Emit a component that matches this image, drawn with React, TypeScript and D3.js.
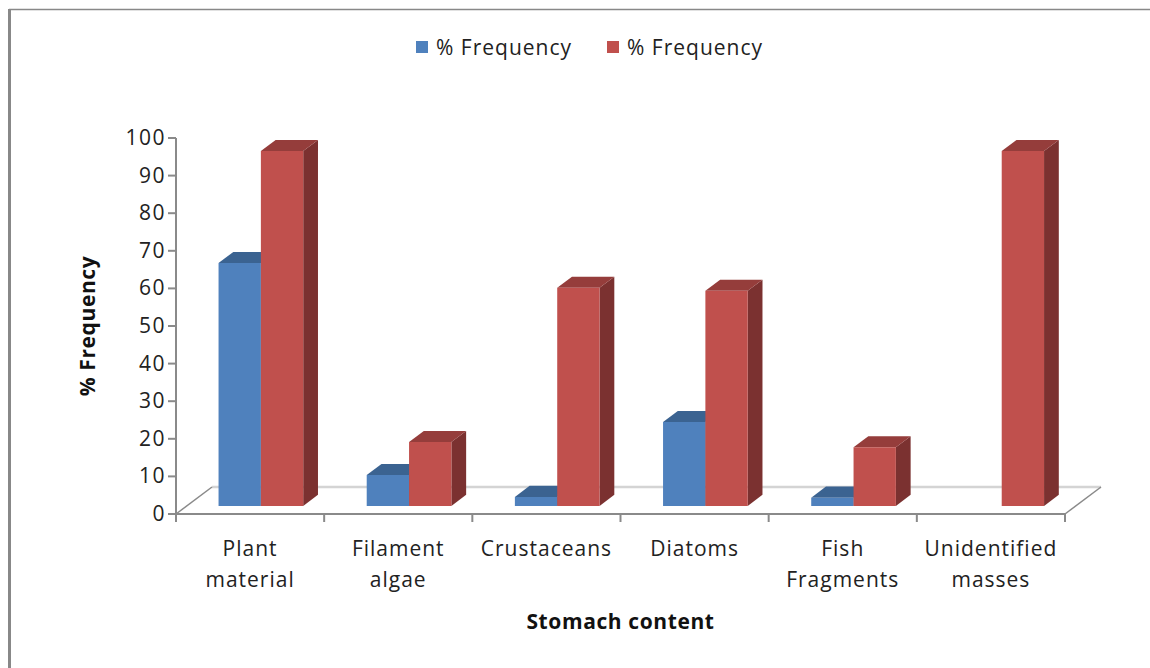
import React from "react";
import * as d3 from "d3";

const categories: string[][] = [
  ["Plant", "material"],
  ["Filament", "algae"],
  ["Crustaceans"],
  ["Diatoms"],
  ["Fish", "Fragments"],
  ["Unidentified", "masses"],
];
const seriesNames = ["% Frequency", "% Frequency"];
const blueValues = [64.6, 8.2, 2.4, 22.3, 2.2, 0];
const redValues = [94.4, 17, 58, 57.2, 15.6, 94.4];
const yTicks = [0, 10, 20, 30, 40, 50, 60, 70, 80, 90, 100];
const yTitle = "% Frequency";
const xTitle = "Stomach content";

const FONT = "'Open Sans', Lato, sans-serif";

export default function App() {
  const W = 1150, H = 668;
  const x0 = 176, x1 = 1065;
  const yFront = d3.scaleLinear().domain([0, 100]).range([514, 138]);
  const depthDX = 36, depthDY = -27;
  const dFront = 0.3, dBack = 0.71;
  const x = d3.scaleBand<number>().domain(d3.range(categories.length)).range([x0, x1]).paddingInner(0).paddingOuter(0);
  const bw = x.bandwidth();
  const barW = bw / 3.5;
  const gap = (bw - 2 * barW) / 2;

  const proj = (px: number, v: number, d: number): [number, number] => [px + d * depthDX, yFront(v) + d * depthDY];
  const poly = (pts: [number, number][]) => pts.map((p) => p.join(",")).join(" ");

  const colors = [
    { front: "#4F81BD", top: "#3B6391", side: "#2F5078" },
    { front: "#C0504D", top: "#953D3B", side: "#7B3130" },
  ];
  const series = [blueValues, redValues];

  const bars: React.ReactNode[] = [];
  categories.forEach((_, i) => {
    series.forEach((vals, s) => {
      const v = vals[i];
      if (v <= 0) return;
      const left = (x(i) as number) + gap + s * barW;
      const right = left + barW;
      const c = colors[s];
      const fbl = proj(left, 0, dFront), fbr = proj(right, 0, dFront);
      const ftl = proj(left, v, dFront), ftr = proj(right, v, dFront);
      const btl = proj(left, v, dBack), btr = proj(right, v, dBack);
      const bbr = proj(right, 0, dBack);
      bars.push(
        <g key={`b${i}-${s}`}>
          <polygon points={poly([fbr, ftr, btr, bbr])} fill={c.side} />
          <polygon points={poly([ftl, ftr, btr, btl])} fill={c.top} />
          <polygon points={poly([fbl, fbr, ftr, ftl])} fill={c.front} />
        </g>
      );
    });
  });

  const cx = (i: number) => (x(i) as number) + bw / 2;
  const fs = 21;
  const ls = 1;

  return (
    <svg width={W} height={H} style={{ position: "absolute", left: 0, top: 0, background: "#fff" }} fontFamily={FONT}>
      <line x1={9} y1={9.5} x2={W} y2={9.5} stroke="#888" strokeWidth={1.5} />
      <line x1={9.5} y1={9} x2={9.5} y2={H} stroke="#888" strokeWidth={3} />

      <rect x={416} y={41} width={12} height={12} fill={colors[0].front} />
      <text x={436} y={55} fontSize={fs} letterSpacing={ls} fill="#222">{seriesNames[0]}</text>
      <rect x={607} y={41} width={12} height={12} fill={colors[1].front} />
      <text x={627} y={55} fontSize={fs} letterSpacing={ls} fill="#222">{seriesNames[1]}</text>

      <line x1={x0 + depthDX} y1={514 + depthDY} x2={x1 + depthDX} y2={514 + depthDY} stroke="#d4d4d4" strokeWidth={2.5} />
      <line x1={x0} y1={514} x2={x0 + depthDX} y2={514 + depthDY} stroke="#8a8a8a" strokeWidth={1.5} />
      <line x1={x1} y1={514} x2={x1 + depthDX} y2={514 + depthDY} stroke="#8a8a8a" strokeWidth={1.5} />
      <line x1={x0} y1={514} x2={x1} y2={514} stroke="#8a8a8a" strokeWidth={2} />

      <line x1={x0} y1={yFront(100)} x2={x0} y2={yFront(0) + 8} stroke="#8a8a8a" strokeWidth={2} />
      {yTicks.map((t) => (
        <g key={t}>
          <line x1={x0 - 8} x2={x0} y1={yFront(t)} y2={yFront(t)} stroke="#8a8a8a" strokeWidth={2} />
          <text x={x0 - 10} y={yFront(t) + 7} fontSize={fs} letterSpacing={1.5} textAnchor="end" fill="#222">{t}</text>
        </g>
      ))}
      {d3.range(categories.length + 1).map((i) => {
        const px = x0 + i * bw;
        return <line key={i} x1={px} x2={px} y1={514} y2={522} stroke="#8a8a8a" strokeWidth={2} />;
      })}

      {bars}

      {categories.map((lines, i) => (
        <text key={i} x={cx(i)} y={556} fontSize={fs} letterSpacing={ls} textAnchor="middle" fill="#222">
          {lines.map((ln, k) => (
            <tspan key={k} x={cx(i)} dy={k === 0 ? 0 : 31}>{ln}</tspan>
          ))}
        </text>
      ))}

      <text x={(x0 + x1) / 2} y={629} fontSize={fs} letterSpacing={0.6} fontWeight="bold" textAnchor="middle" fill="#111">{xTitle}</text>
      <text transform={`translate(95,${326}) rotate(-90)`} fontSize={fs} letterSpacing={0.6} fontWeight="bold" textAnchor="middle" fill="#111">{yTitle}</text>
    </svg>
  );
}
